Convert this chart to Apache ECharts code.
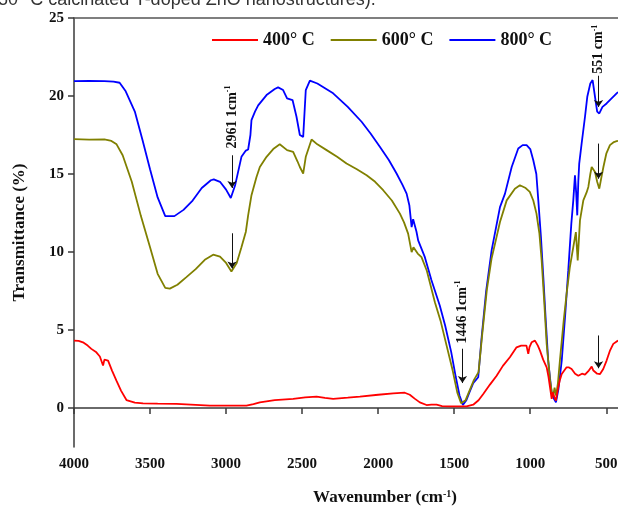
<!DOCTYPE html>
<html>
<head>
<meta charset="utf-8">
<script src="https://cdn.jsdelivr.net/npm/echarts@6/dist/echarts.min.js"></script>
<style>
  html, body { margin: 0; padding: 0; background: #fff; }
  #main { width: 618px; height: 506px; }
</style>
</head>
<body>
<div id="main"></div>
<script>
// FTIR 光谱数据 [波数, 透过率]
var ftir400 = [
  [4000, 4.32], [3970, 4.3], [3941, 4.21], [3910, 4.0], [3886, 3.79], [3853, 3.57], [3830, 3.3],
  [3809, 2.72], [3800, 3.1], [3787, 3.21], [3776, 3.04], [3750, 2.4], [3721, 1.75], [3690, 1.1],
  [3655, 0.51], [3600, 0.35], [3546, 0.3], [3450, 0.28], [3326, 0.26], [3200, 0.2], [3107, 0.15],
  [3000, 0.15], [2866, 0.15], [2820, 0.25], [2778, 0.36], [2680, 0.5], [2559, 0.58], [2480, 0.68],
  [2405, 0.73], [2350, 0.65], [2296, 0.58], [2200, 0.66], [2120, 0.73], [2000, 0.85], [1901, 0.94],
  [1825, 0.98], [1792, 0.85], [1760, 0.6], [1726, 0.36], [1682, 0.19], [1650, 0.22], [1616, 0.21],
  [1580, 0.12], [1528, 0.1], [1470, 0.1], [1419, 0.1], [1375, 0.21], [1340, 0.5], [1309, 0.9],
  [1265, 1.5], [1221, 2.07], [1180, 2.7], [1134, 3.25], [1090, 3.89], [1060, 4.0], [1046, 4.0],
  [1025, 4.0], [1013, 3.47], [1005, 3.9], [991, 4.21], [969, 4.32], [950, 4.0], [936, 3.68],
  [915, 3.1], [892, 2.61], [880, 2.0], [870, 1.32], [859, 0.58], [852, 1.0], [844, 0.9], [838, 0.6],
  [831, 0.47], [824, 0.9], [816, 1.32], [805, 1.8], [793, 2.18], [761, 2.61], [745, 2.6], [728, 2.5],
  [705, 2.2], [684, 2.07], [660, 2.2], [640, 2.14], [615, 2.4], [596, 2.65], [585, 2.4], [560, 2.2],
  [541, 2.18], [520, 2.5], [498, 3.04], [475, 3.7], [454, 4.11], [423, 4.32]
];
var ftir600 = [
  [4000, 17.23], [3900, 17.2], [3800, 17.22], [3754, 17.12], [3720, 16.9], [3680, 16.2], [3620, 14.5],
  [3560, 12.3], [3500, 10.3], [3450, 8.6], [3400, 7.7], [3370, 7.65], [3320, 7.9], [3261, 8.39],
  [3200, 8.9], [3140, 9.5], [3085, 9.83], [3040, 9.7], [3000, 9.3], [2965, 8.75], [2930, 9.3],
  [2899, 10.31], [2870, 11.3], [2855, 12.35], [2833, 13.64], [2800, 14.81], [2778, 15.45],
  [2734, 16.1], [2690, 16.6], [2647, 16.91], [2599, 16.53], [2559, 16.42], [2530, 15.8],
  [2515, 15.45], [2493, 15.03], [2476, 16.1], [2465, 16.2], [2438, 17.21], [2400, 16.9],
  [2339, 16.53], [2270, 16.1], [2208, 15.67], [2140, 15.3], [2076, 14.92], [2020, 14.5],
  [1967, 13.96], [1910, 13.3], [1857, 12.46], [1830, 11.9], [1803, 11.18], [1780, 9.99],
  [1768, 10.3], [1759, 10.21], [1740, 9.9], [1715, 9.67], [1680, 8.8], [1627, 6.78], [1590, 5.6],
  [1550, 4.0], [1510, 2.4], [1480, 1.0], [1455, 0.3], [1446, 0.2], [1425, 0.5], [1400, 1.1],
  [1370, 1.8], [1340, 2.3], [1315, 4.8], [1285, 7.6], [1254, 9.6], [1230, 10.6], [1199, 11.92],
  [1155, 13.31], [1101, 14.06], [1068, 14.28], [1030, 14.1], [1003, 13.85], [980, 13.3],
  [959, 12.46], [940, 11.2], [925, 9.46], [908, 6.8], [892, 4.11], [870, 1.8], [858, 1.0],
  [849, 0.79], [840, 1.3], [830, 0.8], [818, 1.6], [805, 3.04], [780, 5.6], [761, 7.32], [740, 9.0],
  [717, 10.31], [700, 11.28], [688, 9.46], [673, 12.03], [651, 13.31], [630, 13.8], [618, 14.17],
  [605, 15.0], [596, 15.45], [574, 15.13], [560, 14.5], [546, 14.06], [530, 14.9], [519, 15.45],
  [500, 16.3], [476, 16.85], [450, 17.05], [432, 17.1], [423, 17.12]
];
var ftir800 = [
  [4000, 20.95], [3900, 20.97], [3800, 20.95], [3740, 20.92], [3700, 20.85], [3660, 20.3],
  [3600, 19.0], [3550, 17.2], [3500, 15.3], [3450, 13.5], [3400, 12.3], [3388, 12.18], [3340, 12.3],
  [3280, 12.7], [3220, 13.3], [3160, 14.1], [3100, 14.6], [3081, 14.66], [3040, 14.5], [3000, 14.0],
  [2969, 13.46], [2940, 14.3], [2899, 16.1], [2870, 16.5], [2855, 16.57], [2840, 17.5],
  [2833, 18.45], [2810, 19.0], [2789, 19.4], [2734, 20.06], [2680, 20.45], [2658, 20.55],
  [2625, 20.38], [2599, 19.85], [2563, 19.74], [2537, 18.67], [2515, 17.5], [2493, 17.38],
  [2476, 20.38], [2467, 20.4], [2449, 20.98], [2400, 20.8], [2296, 20.17], [2200, 19.3],
  [2109, 18.35], [2050, 17.6], [1989, 16.74], [1930, 15.9], [1879, 15.03], [1840, 14.3],
  [1813, 13.74], [1795, 13.0], [1780, 11.6], [1770, 12.1], [1759, 12.07], [1748, 11.3],
  [1737, 10.75], [1693, 9.67], [1650, 8.2], [1595, 6.57], [1560, 5.3], [1520, 3.6], [1490, 2.0],
  [1465, 0.8], [1443, 0.2], [1420, 0.5], [1400, 1.0], [1375, 1.6], [1342, 1.97], [1320, 4.5],
  [1290, 7.5], [1254, 10.1], [1199, 12.88], [1166, 13.74], [1122, 15.45], [1079, 16.63],
  [1050, 16.85], [1024, 16.85], [1000, 16.6], [980, 15.88], [960, 15.0], [947, 13.31], [930, 11.0],
  [914, 8.39], [898, 5.6], [882, 3.04], [860, 1.0], [845, 0.6], [831, 0.36], [815, 1.2], [793, 3.04],
  [770, 6.0], [750, 8.82], [730, 11.8], [717, 13.31], [706, 14.92], [698, 13.8], [691, 12.35],
  [684, 14.5], [678, 15.67], [662, 16.96], [640, 18.67], [625, 19.95], [605, 20.8], [590, 21.02],
  [575, 20.0], [560, 19.0], [546, 18.88], [525, 19.3], [498, 19.52], [470, 19.8], [432, 20.17],
  [423, 20.25]
];

var seriesNames = ['400° C', '600° C', '800° C'];
var seriesColors = ['#ff0000', '#808000', '#0000ff'];
var xTicks = [4000, 3500, 3000, 2500, 2000, 1500, 1000, 500];
var yTicks = [0, 5, 10, 15, 20, 25];

// 箭头 [起点, 终点]（数据坐标）
var arrows = [
  [[2961, 16.2], [2961, 14.1]],
  [[2961, 11.2], [2961, 8.95]],
  [[1446, 3.8], [1446, 1.6]],
  [[551, 21.3], [551, 19.3]],
  [[551, 16.95], [551, 14.7]],
  [[551, 4.65], [551, 2.55]]
];
// 峰位标注 [波数, 透过率, 文字]
var peakLabels = [
  [2961, 18.65, '2961 1cm'],
  [1446, 6.15, '1446 1cm'],
  [551, 23.0, '551 cm']
];

(function () {
  var myChart = echarts.init(document.getElementById('main'));
  var serif = '"Liberation Serif", "Times New Roman", serif';
  var axisColor = '#3a3a3a';

  var option = {
    animation: false,
    color: seriesColors,
    grid: { left: 74, top: 18, right: 0, bottom: 59, outerBoundsMode: 'none', containLabel: false },
    legend: {
      left: 207,
      top: 26,
      icon: 'rect',
      itemWidth: 46,
      itemHeight: 2,
      itemGap: 16,
      textStyle: { fontFamily: serif, fontWeight: 'bold', fontSize: 18, color: '#111' },
      data: seriesNames
    },
    xAxis: [{
      type: 'value',
      inverse: true,
      min: 423,
      max: 4000,
      name: 'Wavenumber (cm{sup|-1})',
      nameLocation: 'middle',
      nameGap: 42,
      nameTextStyle: {
        fontFamily: serif, fontWeight: 'bold', fontSize: 17, color: '#111',
        padding: [0, 0, 0, 78],
        rich: { sup: { fontFamily: serif, fontWeight: 'bold', fontSize: 10, verticalAlign: 'top', padding: [0, 0, 8, 0] } }
      },
      axisLine: { lineStyle: { color: axisColor, width: 1.5 } },
      axisTick: { length: 6, lineStyle: { color: axisColor, width: 1.5 }, customValues: xTicks },
      axisLabel: {
        customValues: xTicks, margin: 10,
        formatter: function (v) { return String(v); },
        fontFamily: serif, fontWeight: 'bold', fontSize: 15, color: '#111'
      },
      splitLine: { show: false }
    }, {
      // 顶部边框
      type: 'value',
      position: 'top',
      inverse: true,
      min: 423,
      max: 4000,
      axisLine: { show: true, lineStyle: { color: '#555', width: 1.5 } },
      axisTick: { show: false },
      axisLabel: { show: false },
      splitLine: { show: false }
    }],
    yAxis: {
      type: 'value',
      min: -2.5,
      max: 25,
      name: 'Transmittance (%)',
      nameLocation: 'middle',
      nameGap: 46,
      nameTextStyle: { fontFamily: serif, fontWeight: 'bold', fontSize: 17, color: '#111' },
      axisLine: { show: true, lineStyle: { color: axisColor, width: 1.5 } },
      axisTick: { show: true, length: 6, lineStyle: { color: axisColor, width: 1.5 }, customValues: yTicks },
      axisLabel: {
        customValues: yTicks, margin: 10,
        fontFamily: serif, fontWeight: 'bold', fontSize: 15, color: '#111'
      },
      splitLine: { show: false }
    },
    series: [
      {
        name: seriesNames[0], type: 'line', data: ftir400, showSymbol: false,
        lineStyle: { width: 1.8 }, z: 3,
        markLine: {
          silent: true,
          symbol: ['none', 'arrow'],
          symbolSize: 7,
          label: { show: false },
          lineStyle: { color: '#111', width: 1, type: 'solid' },
          data: arrows.map(function (a) {
            return [{ coord: a[0] }, { coord: a[1] }];
          })
        }
      },
      { name: seriesNames[1], type: 'line', data: ftir600, showSymbol: false, lineStyle: { width: 1.8 }, z: 2 },
      { name: seriesNames[2], type: 'line', data: ftir800, showSymbol: false, lineStyle: { width: 1.8 }, z: 1 }
    ]
  };
  myChart.setOption(option);

  // 竖排峰位文字
  var graphics = peakLabels.map(function (p) {
    var pos = myChart.convertToPixel({ xAxisIndex: 0, yAxisIndex: 0 }, [p[0], p[1]]);
    return {
      type: 'text',
      x: pos[0],
      y: pos[1],
      rotation: Math.PI / 2,
      style: {
        text: p[2] + '{sup|-1}',
        fontFamily: serif,
        fontWeight: 'bold',
        fontSize: 14,
        fill: '#111',
        align: 'center',
        verticalAlign: 'middle',
        rich: { sup: { fontFamily: serif, fontWeight: 'bold', fontSize: 8, verticalAlign: 'top', padding: [0, 0, 8, 0] } }
      }
    };
  });
  // 顶部被截断的图注
  graphics.push({
    type: 'text',
    x: -2,
    y: -9,
    style: {
      text: '50° C calcinated Y-doped ZnO nanostructures).',
      fontFamily: '"Liberation Sans", Arial, sans-serif',
      fontSize: 18,
      fill: '#333'
    }
  });
  myChart.setOption({ graphic: graphics });

  window.addEventListener('resize', function () {
    myChart.resize();
  });
})();
</script>
</body>
</html>
